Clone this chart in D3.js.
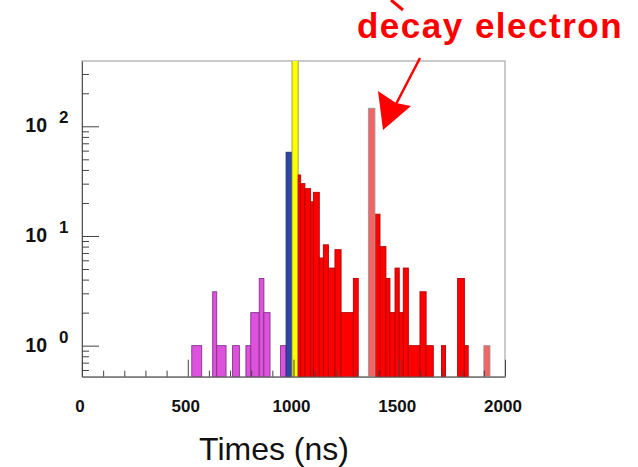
<!DOCTYPE html>
<html>
<head>
<meta charset="utf-8">
<script src="https://cdn.jsdelivr.net/npm/d3@7/dist/d3.min.js"></script>
<style>
  body { margin: 0; background: #fff; }
  svg { display: block; font-family: "Liberation Sans", Arial, sans-serif; }
</style>
</head>
<body>
<svg width="638" height="467"></svg>
<script>
"use strict"

/* histogram bins: [start ns, end ns, counts] */
var pinkBins = [
    [519, 566, 1], [618, 637, 3.1], [637, 681, 1], [712, 744, 1], [775, 798, 1],
    [798, 838, 2], [838, 860, 4.1], [860, 889, 2], [939, 965, 1]
];
var blueBins = [[965, 993, 58]];
var yellowBins = [[993, 1022, 600]];
var redBins = [
    [1022, 1034, 36], [1034, 1054, 30], [1054, 1081, 27], [1081, 1094, 20.5],
    [1094, 1122, 25], [1122, 1141, 6.3], [1141, 1165, 8.3], [1165, 1196, 5.1],
    [1196, 1225, 7.5], [1225, 1283, 2], [1283, 1306, 4.1],
    [1385, 1409, 15.8], [1409, 1437, 8], [1437, 1456, 4.1], [1456, 1480, 2],
    [1480, 1500, 5.1], [1500, 1519, 2], [1519, 1543, 5.1], [1543, 1598, 1],
    [1598, 1627, 3.1], [1627, 1661, 1], [1700, 1719, 1], [1776, 1808, 4.1],
    [1808, 1826, 1]
];
var decayBins = [[1354, 1385, 146], [1900, 1929, 1]];

var xTickLabels = [0, 500, 1000, 1500, 2000];
var yDecades = [1, 10, 100];
var yExponents = ["0", "1", "2"];

var svg = d3.select("svg");

var x = d3.scaleLinear().domain([0, 2000]).range([82, 505]);
var y = d3.scaleLog().domain([0.521, 394]).range([376.7, 61]);

var g = svg.append("g");

/* frame */
g.append("rect")
    .attr("x", x(0)).attr("y", y(394))
    .attr("width", x(2000) - x(0)).attr("height", y(0.521) - y(394))
    .attr("fill", "none").attr("stroke", "#a8a8a8").attr("stroke-width", 1.2);

var clip = svg.append("clipPath").attr("id", "plotclip")
clip.append("rect")
    .attr("x", x(0)).attr("y", y(394))
    .attr("width", x(2000) - x(0)).attr("height", y(0.521) - y(394));

var bars = g.append("g").attr("clip-path", "url(#plotclip)");

var draw_bins = function(data, fill, stroke) {
    bars.append("g").selectAll("rect")
        .data(data)
        .enter().append("rect")
        .attr("x", function(d) { return x(d[0]); })
        .attr("y", function(d) { return y(d[2]); })
        .attr("width", function(d) { return x(d[1]) - x(d[0]); })
        .attr("height", function(d) { return y(0.521) - y(d[2]); })
        .attr("fill", fill)
        .attr("stroke", stroke)
        .attr("stroke-width", 0.9);
}

draw_bins(pinkBins, "#dc52dc", "#86308a");
draw_bins(blueBins, "#2c45a8", "#1c2c78");
draw_bins(yellowBins, "#ffff00", "#9a9a30");
draw_bins(redBins, "#ff0000", "#b40000");
draw_bins(decayBins, "#f46464", "#9a9a9a");

/* axes: ticks point inward */
var yAxis = d3.axisRight(y)
    .tickValues([0.6, 0.7, 0.8, 0.9, 1, 2, 3, 4, 5, 6, 7, 8, 9, 10,
                 20, 30, 40, 50, 60, 70, 80, 90, 100, 200, 300])
    .tickFormat("")
    .tickSizeOuter(0);
g.append("g")
    .attr("transform", "translate(" + x(0) + ",0)")
    .call(yAxis)
    .call(function(a) {
        a.select(".domain").attr("stroke", "#555");
        a.selectAll(".tick line")
            .attr("stroke", "#444")
            .attr("x2", function(d) { return yDecades.indexOf(d) >= 0 ? 17 : 7; });
    });

var xAxis = d3.axisTop(x)
    .tickValues(d3.range(0, 2001, 100))
    .tickFormat("")
    .tickSizeOuter(0);
g.append("g")
    .attr("transform", "translate(0," + y(0.521) + ")")
    .call(xAxis)
    .call(function(a) {
        a.select(".domain").attr("stroke", "#555");
        a.selectAll(".tick line")
            .attr("stroke", "#444")
            .attr("y2", function(d) { return d % 500 === 0 ? -17 : -6; });
    });

/* tick labels */
g.append("g").selectAll("text")
    .data(xTickLabels)
    .enter().append("text")
    .attr("x", function(d) { return x(d) - 2; })
    .attr("y", 412)
    .attr("text-anchor", "middle")
    .attr("font-size", 17)
    .attr("font-weight", "bold")
    .attr("fill", "#111")
    .text(function(d) { return d; });

var ylab = g.append("g").selectAll("g")
    .data(yDecades)
    .enter().append("g");
ylab.append("text")
    .attr("x", 47)
    .attr("y", function(d) { return y(d) + 6; })
    .attr("text-anchor", "end")
    .attr("font-size", 19.5)
    .attr("font-weight", "bold")
    .attr("fill", "#111")
    .text("10");
ylab.append("text")
    .attr("x", 59)
    .attr("y", function(d) { return y(d) - 3; })
    .attr("font-size", 17)
    .attr("font-weight", "bold")
    .attr("fill", "#111")
    .text(function(d, i) { return yExponents[i]; });

/* axis title */
svg.append("text")
    .attr("x", 274)
    .attr("y", 460)
    .attr("text-anchor", "middle")
    .attr("font-size", 32)
    .attr("fill", "#111")
    .text("Times (ns)");

/* annotation */
svg.append("text")
    .attr("x", 490)
    .attr("y", 38)
    .attr("text-anchor", "middle")
    .attr("font-size", 35)
    .attr("font-weight", "bold")
    .attr("letter-spacing", 1.5)
    .attr("fill", "#ff0000")
    .text("decay electron");

svg.append("line")
    .attr("x1", 391).attr("y1", 0).attr("x2", 403).attr("y2", 10)
    .attr("stroke", "#ff0000").attr("stroke-width", 3);
svg.append("line")
    .attr("x1", 420).attr("y1", 58).attr("x2", 394).attr("y2", 108)
    .attr("stroke", "#ff0000").attr("stroke-width", 2.5);
svg.append("path")
    .attr("d", "M383,130 L378,91 L396,103 L411,106 Z")
    .attr("fill", "#ff0000");
</script>
</body>
</html>
